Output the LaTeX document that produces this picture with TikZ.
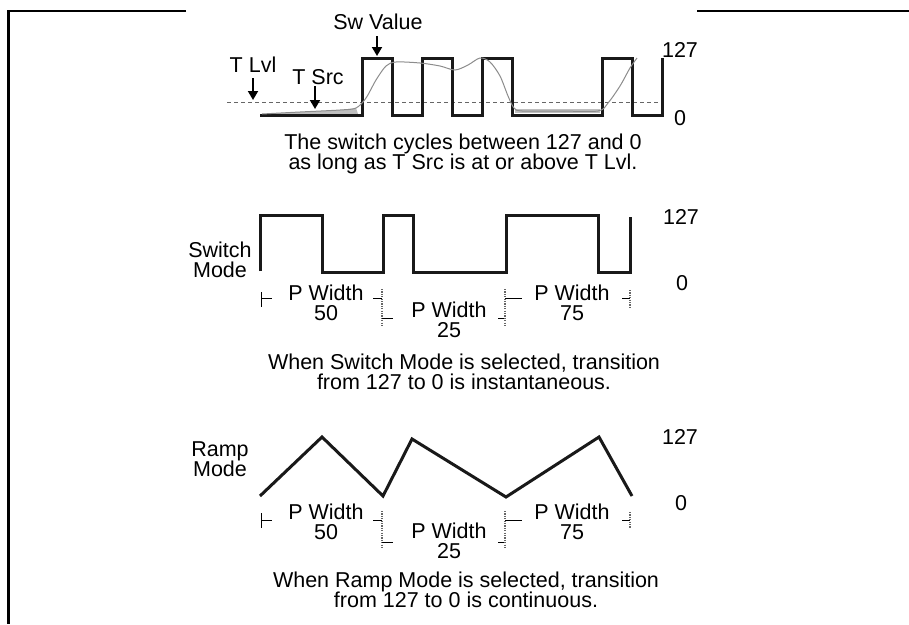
\documentclass[tikz,border=0pt]{standalone}
\usepackage{fontspec}
\setmainfont{Liberation Sans}
\usetikzlibrary{arrows.meta}
\begin{document}
\begin{tikzpicture}[x=1pt,y=-1pt,
  lbl/.style={font=\fontsize{21.5}{20.5}\selectfont, inner sep=0pt, align=center},
  wave/.style={line width=3pt, black!90, line join=miter},
  src/.style={line width=1pt, black!45},
  pointer/.style={line width=1.8pt, -{Triangle[width=10pt,length=9pt]}},
  dimh/.style={line width=1pt, black},
  dimv/.style={line width=1.2pt, black!60, dash pattern=on 1.2pt off 1.2pt},
  tlvl/.style={line width=0.8pt, black!60, dash pattern=on 4pt off 3pt},
  frame/.style={line width=2.7pt, black}]
\useasboundingbox (0,0) rectangle (909,624);
% frame
\draw[frame] (186,11) -- (8.5,11) -- (8.5,624);
\draw[frame] (697,11) -- (909,11);

% ---------- top panel ----------
\draw[tlvl] (227,102) -- (660,102);
\fill[black!25] (262,114) -- (300,112) -- (340,110) -- (356,108) -- (358,114) -- cycle;
\fill[black!25] (515,109) -- (600,109) -- (600,113) -- (515,113) -- cycle;
\draw[wave] (260,115) -- (362,115) -- (362,58) -- (392,58) -- (392,115) -- (422,115)
  -- (422,58) -- (452,58) -- (452,115) -- (482,115) -- (482,58) -- (512,58)
  -- (512,115) -- (602,115) -- (602,58) -- (632,58) -- (632,115) -- (662,115) -- (662,58);
\draw[src] plot[smooth, tension=0.5] coordinates {(262,114) (300,112) (340,110) (356,108)
  (366,98) (376,80) (386,66) (396,62) (420,63) (440,66) (455,70) (468,65) (480,58)
  (490,62) (500,76) (508,96) (514,108) (522,111) (560,111) (598,111) (608,103)
  (620,86) (630,68) (637,58)};

\node[lbl] (swv) at (378,22) {Sw Value};
\node[lbl] (tlv) at (253,65) {T Lvl};
\node[lbl] (tsr) at (318,77) {T Src};
\coordinate (swvA) at (377,36);  \coordinate (swvB) at (377,56);
\coordinate (tlvA) at (253,78);  \coordinate (tlvB) at (253,100);
\coordinate (tsrA) at (315,86);  \coordinate (tsrB) at (315,109);
\draw[pointer] (swvA) -- (swvB);
\draw[pointer] (tlvA) -- (tlvB);
\draw[pointer] (tsrA) -- (tsrB);
\node[lbl] (h1) at (680,50) {127};
\node[lbl] (z1) at (680,118) {0};
\node[lbl] (cap1) at (463,154) {The switch cycles between 127 and 0\\as long as T Src is at or above T Lvl.};

% ---------- switch mode ----------
\node[lbl] (swm) at (220,260) {Switch\\Mode};
\draw[wave] (260,271) -- (260,215) -- (322,215) -- (322,272) -- (383,272) -- (383,215)
  -- (413,215) -- (413,272) -- (506,272) -- (506,215) -- (598,215) -- (598,272)
  -- (630,272) -- (630,217);
\node[lbl] (h2) at (681,217) {127};
\node[lbl] (z2) at (682,283) {0};
% dimension marks
\draw[dimh] (261,292) -- (261,307);
\draw[dimh] (261,298) -- (272,298);
\draw[dimh] (373,298) -- (382,298);
\draw[dimv] (382,289) -- (382,327);
\draw[dimh] (382,318) -- (393,318);
\draw[dimh] (498,318) -- (505,318);
\draw[dimv] (505,289) -- (505,327);
\draw[dimh] (505,298) -- (522,298);
\draw[dimh] (622,298) -- (630,298);
\draw[dimv] (630,290) -- (630,307);
\node[lbl] (pw1) at (326,303) {P Width\\50};
\node[lbl] (pw2) at (449,320) {P Width\\25};
\node[lbl] (pw3) at (572,303) {P Width\\75};
\node[lbl] (cap2) at (464,372) {When Switch Mode is selected, transition\\from 127 to 0 is instantaneous.};

% ---------- ramp mode ----------
\node[lbl] (rmm) at (220,459) {Ramp\\Mode};
\draw[wave] (260,496) -- (322,437) -- (383,496) -- (412,439) -- (506,497) -- (599,437) -- (632,496);
\node[lbl] (h3) at (680,437) {127};
\node[lbl] (z3) at (681,503) {0};
\draw[dimh] (261,513) -- (261,528);
\draw[dimh] (261,520) -- (272,520);
\draw[dimh] (373,520) -- (382,520);
\draw[dimv] (382,511) -- (382,548);
\draw[dimh] (382,542) -- (393,542);
\draw[dimh] (498,542) -- (505,542);
\draw[dimv] (505,511) -- (505,548);
\draw[dimh] (505,520) -- (522,520);
\draw[dimh] (622,520) -- (630,520);
\draw[dimv] (630,512) -- (630,528);
\node[lbl] (pw4) at (326,522) {P Width\\50};
\node[lbl] (pw5) at (449,541) {P Width\\25};
\node[lbl] (pw6) at (572,522) {P Width\\75};
\node[lbl] (cap3) at (466,590) {When Ramp Mode is selected, transition\\from 127 to 0 is continuous.};
\end{tikzpicture}
\end{document}
